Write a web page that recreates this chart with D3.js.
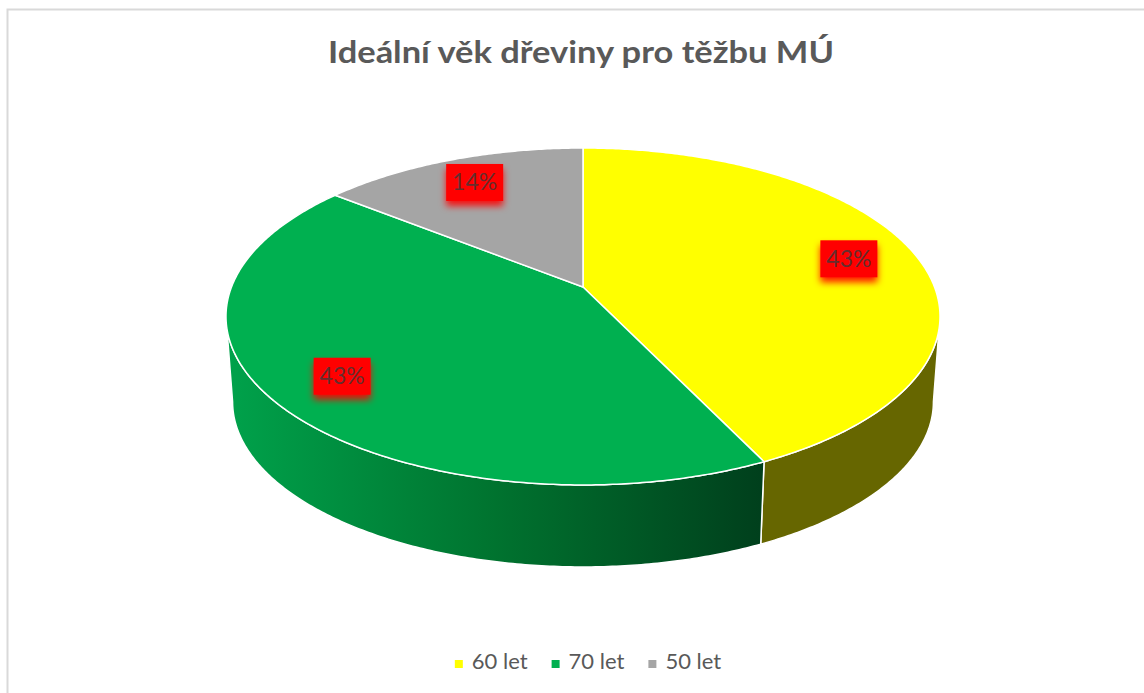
<!DOCTYPE html>
<html>
<head>
<meta charset="utf-8">
<script src="https://cdn.jsdelivr.net/npm/d3@7"></script>
<style>
  html, body { margin: 0; padding: 0; background: #fff; }
  svg { display: block; font-family: Lato, "Open Sans", sans-serif; }
</style>
</head>
<body>
<svg id="chart" width="1144" height="693"></svg>
<script>
// data
const categories = ["60 let", "70 let", "50 let"];
const values = [3, 3, 1];
const titleText = "Ideální věk dřeviny pro těžbu MÚ";

const topColors = ["#FFFF00", "#00B050", "#A5A5A5"];
const sideColors = ["#666600", "url(#greenSide)", "#636363"];

const svg = d3.select("#chart");
const W = 1144, H = 693;

// frame
svg.append("rect")
    .attr("x", 7.5).attr("y", 9.5)
    .attr("width", W + 20).attr("height", H + 20)
    .attr("fill", "#fff")
    .attr("stroke", "#D9D9D9")
    .attr("stroke-width", 2);

// title
svg.append("text")
    .attr("x", 581).attr("y", 63)
    .attr("text-anchor", "middle")
    .attr("font-size", 31)
    .attr("font-weight", 700)
    .attr("fill", "#595959")
    .attr("textLength", 506)
    .attr("lengthAdjust", "spacingAndGlyphs")
    .text(titleText);

// 3d pie projection (perspective on a tilted disk)
const cx = 583;
const persp = 0.175;
const faces = {
    top: { A: 351.5, B: 163.3, cy: 287 },
    bottom: { A: 345, B: 160, cy: 373 }
};
function proj(theta, r, face) {
    const f = faces[face];
    const u = Math.sin(theta) * r, v = Math.cos(theta) * r;
    const w = 1 + persp * v;
    return [cx + f.A * u / w, f.cy - f.B * v / w];
}
function arcPoints(a0, a1, face) {
    const n = Math.max(2, Math.ceil(Math.abs(a1 - a0) / 0.01));
    return d3.range(n + 1).map(i => proj(a0 + (a1 - a0) * i / n, 1, face));
}

const pie = d3.pie().sort(null).value(d => d);
const arcs = pie(values);
const total = d3.sum(values);
const pct = d3.format(".0%");

const defs = svg.append("defs");

// visible side range (silhouette)
const sideL = Math.acos(-persp);
const sideR = 2 * Math.PI - sideL;

const greenArc = arcs[1];
const gx0 = proj(sideR, 1, "top")[0];
const gx1 = proj(Math.max(greenArc.startAngle, sideL), 1, "top")[0];
const grad = defs.append("linearGradient")
    .attr("id", "greenSide")
    .attr("gradientUnits", "userSpaceOnUse")
    .attr("x1", gx0).attr("x2", gx1).attr("y1", 0).attr("y2", 0);
grad.append("stop").attr("offset", "0%").attr("stop-color", "#00A24B");
grad.append("stop").attr("offset", "50%").attr("stop-color", "#00732F");
grad.append("stop").attr("offset", "100%").attr("stop-color", "#003F1C");

const shadow = defs.append("filter")
    .attr("id", "redGlow")
    .attr("x", "-30%").attr("y", "-30%").attr("width", "160%").attr("height", "190%");
shadow.append("feDropShadow")
    .attr("dx", 0).attr("dy", 5)
    .attr("stdDeviation", 3.5)
    .attr("flood-color", "#FF0000")
    .attr("flood-opacity", 0.9);

const line = d3.line();
const pieG = svg.append("g");

// side walls
arcs.forEach((d, i) => {
    const s = Math.max(d.startAngle, sideL);
    const e = Math.min(d.endAngle, sideR);
    if (e <= s) return;
    const pts = arcPoints(s, e, "top").concat(arcPoints(e, s, "bottom"));
    pieG.append("path")
        .attr("d", line(pts) + "Z")
        .attr("fill", sideColors[i])
        .attr("stroke", "#fff")
        .attr("stroke-width", 1.5)
        .attr("stroke-linejoin", "round");
});

// top faces
arcs.forEach((d, i) => {
    const pts = [proj(0, 0, "top")].concat(arcPoints(d.startAngle, d.endAngle, "top"));
    pieG.append("path")
        .attr("d", line(pts) + "Z")
        .attr("fill", topColors[i])
        .attr("stroke", "#fff")
        .attr("stroke-width", 1.5)
        .attr("stroke-linejoin", "round");
});

// data labels
const labelW = 57, labelH = 37;
arcs.forEach((d, i) => {
    const mid = (d.startAngle + d.endAngle) / 2;
    const [lx, ly] = proj(mid, 0.8, "top");
    const g = svg.append("g").attr("transform", `translate(${lx},${ly})`);
    g.append("rect")
        .attr("x", -labelW / 2).attr("y", -labelH / 2)
        .attr("width", labelW).attr("height", labelH)
        .attr("fill", "#FF0000")
        .attr("filter", "url(#redGlow)");
    g.append("text")
        .attr("text-anchor", "middle")
        .attr("y", 8)
        .attr("font-size", 23)
        .attr("fill", "#3A3A3A")
        .attr("fill-opacity", 0.8)
        .text(pct(values[i] / total));
});

// legend
const legend = svg.append("g");
const gap = 24;
let lx = 0;
categories.forEach((c, i) => {
    const item = legend.append("g").attr("transform", `translate(${lx},0)`);
    item.append("rect")
        .attr("x", 0).attr("y", -9)
        .attr("width", 8).attr("height", 8)
        .attr("fill", topColors[i]);
    const t = item.append("text")
        .attr("x", 17).attr("y", 0)
        .attr("font-size", 22)
        .attr("fill", "#595959")
        .text(c);
    lx += 17 + t.node().getComputedTextLength() + gap;
});
const legendW = lx - gap;
legend.attr("transform", `translate(${588 - legendW / 2},669)`);
</script>
</body>
</html>
